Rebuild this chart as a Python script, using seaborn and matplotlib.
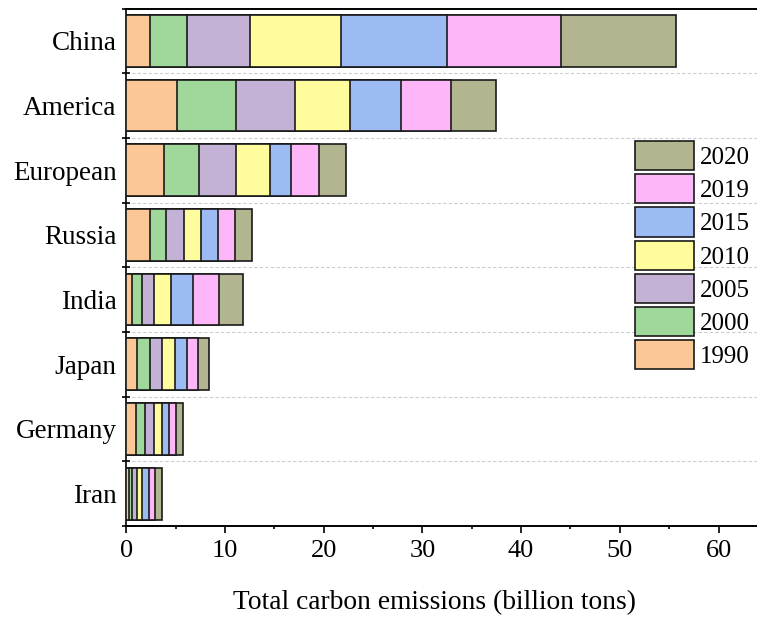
import numpy as np
import pandas as pd
import matplotlib
matplotlib.use("Agg")
import matplotlib.pyplot as plt
import seaborn as sns
from matplotlib.ticker import MultipleLocator, FixedLocator
from matplotlib.patches import Patch

# Countries / regions (top to bottom)
countries = ["China", "America", "European", "Russia", "India", "Japan", "Germany", "Iran"]
years = ["1990", "2000", "2005", "2010", "2015", "2019", "2020"]

# Carbon emissions per year segment (billion tons)
e1990 = [2.40, 5.10, 3.82, 2.40, 0.61, 1.11, 1.01, 0.24]
e2000 = [3.79, 6.04, 3.58, 1.65, 0.98, 1.29, 0.92, 0.33]
e2005 = [6.34, 5.93, 3.68, 1.76, 1.18, 1.25, 0.84, 0.48]
e2010 = [9.22, 5.59, 3.45, 1.72, 1.76, 1.28, 0.81, 0.57]
e2015 = [10.75, 5.20, 2.13, 1.73, 2.26, 1.25, 0.78, 0.68]
e2019 = [11.59, 5.00, 2.90, 1.79, 2.60, 1.08, 0.71, 0.64]
e2020 = [11.57, 4.56, 2.67, 1.69, 2.40, 1.12, 0.64, 0.71]

colors = ["#FBC797", "#A0D89B", "#C3B1D6", "#FFFC9E", "#9CBBF2", "#FDB6F7", "#B2B590"]

series = [e1990, e2000, e2005, e2010, e2015, e2019, e2020]
cum = np.cumsum(np.array(series), axis=0)

rows = []
for yi, yr in enumerate(years):
    for ci, c in enumerate(countries):
        rows.append({"country": c, "year": yr, "cumulative": cum[yi, ci]})
df = pd.DataFrame(rows)

sns.set_style("white")
plt.rcParams["font.family"] = ["Liberation Serif", "DejaVu Serif"]
plt.rcParams["text.color"] = "black"
plt.rcParams["axes.labelcolor"] = "black"
plt.rcParams["xtick.color"] = "black"
plt.rcParams["ytick.color"] = "black"

fig = plt.figure(figsize=(7.57, 6.18), dpi=100)
ax = fig.add_axes([126.3 / 757, 1 - 526 / 618, (757 - 126.3) / 757, (526 - 8.5) / 618])

# Stacked bars: draw cumulative totals from the outermost segment inward
for yi in range(len(years) - 1, -1, -1):
    sub = df[df["year"] == years[yi]]
    sns.barplot(data=sub, x="cumulative", y="country", order=countries,
                color=colors[yi], edgecolor="#1a1a1a", linewidth=1.2,
                width=0.8, saturation=1, ax=ax, zorder=3)

ax.set_xlim(0, 63.9)
ax.set_ylim(7.5, -0.5)

ax.xaxis.set_major_locator(MultipleLocator(10))
ax.xaxis.set_minor_locator(MultipleLocator(5))
ax.tick_params(axis="x", which="major", direction="out", length=5, width=1.2,
               labelsize=19, bottom=True, pad=5, colors="black")
ax.tick_params(axis="x", which="minor", direction="out", length=2.5, width=1.2, bottom=True)

ax.yaxis.set_minor_locator(FixedLocator(np.arange(-0.5, 8, 1.0)))
ax.tick_params(axis="y", which="major", length=0, labelsize=19.5, pad=7, colors="black")
ax.tick_params(axis="y", which="minor", direction="inout", length=6, width=1.2, left=True)

ax.grid(False)
for b in np.arange(0.5, 7.5, 1.0):
    ax.axhline(b, color="#cccccc", lw=0.8, ls=(0, (3, 2)), zorder=0)

for s in ["top", "bottom", "left"]:
    ax.spines[s].set_visible(True)
    ax.spines[s].set_color("black")
ax.spines["top"].set_linewidth(1.4)
ax.spines["bottom"].set_linewidth(1.4)
ax.spines["left"].set_linewidth(1.2)
ax.spines["right"].set_visible(False)

ax.set_ylabel("")
ax.set_xlabel("Total carbon emissions (billion tons)", fontsize=19.8, labelpad=20, color="black")
ax.xaxis.label.set_x(0.489)

handles = [Patch(facecolor=colors[i], edgecolor="#1a1a1a", linewidth=1.2, label=years[i])
           for i in range(len(years) - 1, -1, -1)]
leg = ax.legend(handles=handles, loc="upper left",
                bbox_to_anchor=(635 / 757, 1 - 141 / 618), bbox_transform=fig.transFigure,
                frameon=False, fontsize=18, borderpad=0, borderaxespad=0,
                handlelength=2.36, handleheight=1.42, labelspacing=0.16, handletextpad=0.25)
for t in leg.get_texts():
    t.set_color("black")

fig.savefig("out.png", dpi=100)
